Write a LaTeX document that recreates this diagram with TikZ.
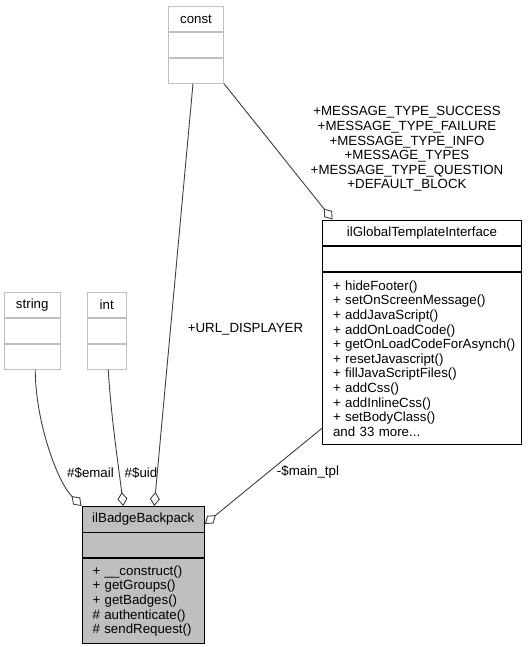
\documentclass[tikz,border=0pt]{standalone}
\usepackage{fontspec}
\setmainfont{Liberation Sans}
\usepackage{tikz}
\usetikzlibrary{arrows.meta}

\definecolor{boxgray}{HTML}{BFBFBF}
\definecolor{edgegray}{HTML}{404040}

\hyphenpenalty=10000
\exhyphenpenalty=10000

\tikzset{
  cls/.style={draw=black, fill=white, line width=0.9pt, inner sep=0pt, minimum height=25pt, anchor=north},
  extcls/.style={cls, draw=boxgray},
  opsbox/.style={cls, align=left, inner xsep=10.5pt},
  agg/.style={draw=edgegray, line width=0.9pt, -{Diamond[fill=white, length=14pt, width=10pt]}},
  lbl/.style={align=center}
}

\begin{document}
\begin{tikzpicture}[x=1pt, y=-1pt, every node/.style={font=\fontsize{13.3}{14.6}\selectfont}]
	% \draw[gray, very thin] (0,0) grid[step=50] (527,647);
	\useasboundingbox (0,0) rectangle (527,647);

	% const
	\node[extcls, minimum width=55pt] (cst) at (196,6) {const};
	\node[extcls, minimum width=55pt] (cst-attr) at (cst.south) {};
	\node[extcls, minimum width=55pt] (cst-ops) at (cst-attr.south) {};

	% string
	\node[extcls, minimum width=55.5pt] (str) at (32.25,292) {string};
	\node[extcls, minimum width=55.5pt] (str-attr) at (str.south) {};
	\node[extcls, minimum width=55.5pt] (str-ops) at (str-attr.south) {};

	% int
	\node[extcls, minimum width=38.5pt] (int) at (106.75,292) {int};
	\node[extcls, minimum width=38.5pt] (int-attr) at (int.south) {};
	\node[extcls, minimum width=38.5pt] (int-ops) at (int-attr.south) {};

	% ilGlobalTemplateInterface
	\node[cls, minimum width=199pt, minimum height=25.5pt] (gti) at (422,219.5) {ilGlobalTemplateInterface};
	\node[cls, minimum width=199pt] (gti-attr) at (gti.south) {};
	\node[opsbox, text width=178pt, minimum height=172.5pt] (gti-ops) at (gti-attr.south) {+~hideFooter()\\+~setOnScreenMessage()\\+~addJavaScript()\\+~addOnLoadCode()\\+~getOnLoadCodeForAsynch()\\+~resetJavascript()\\+~fillJavaScriptFiles()\\+~addCss()\\+~addInlineCss()\\+~setBodyClass()\\and 33 more...};

	% ilBadgeBackpack
	\node[cls, fill=boxgray, minimum width=122.5pt, minimum height=25.5pt] (bp) at (143.25,506) {ilBadgeBackpack};
	\node[cls, fill=boxgray, minimum width=122.5pt] (bp-attr) at (bp.south) {};
	\node[opsbox, fill=boxgray, text width=101.5pt, minimum height=84.5pt] (bp-ops) at (bp-attr.south) {+~\_\_construct()\\+~getGroups()\\+~getBadges()\\\#~authenticate()\\\#~sendRequest()};

	% connectors
	\draw[agg] (cst-ops.south east) -- ([xshift=10.5pt]gti.north west);
	\draw[agg] ([xshift=-3pt]cst-ops.south) -- ([xshift=11pt]bp.north);
	\draw[agg] ([xshift=3pt]str-ops.south) .. controls +(0,50) and +(-25,-25) .. (bp.north west);
	\draw[agg] ([xshift=1.5pt]int-ops.south) .. controls +(3,50) and +(-4,-35) .. ([xshift=-20pt]bp.north);
	\draw[agg] ([yshift=17pt]gti-ops.south west) -- ([yshift=-18pt]bp.north east);

	% labels
	\node[lbl] (msg) at (407,149) {+MESSAGE\_TYPE\_SUCCESS\\+MESSAGE\_TYPE\_FAILURE\\+MESSAGE\_TYPE\_INFO\\+MESSAGE\_TYPES\\+MESSAGE\_TYPE\_QUESTION\\+DEFAULT\_BLOCK};
	\node (url) at (245.5,329) {+URL\_DISPLAYER};
	\node (email) at (90.5,473) {\#\$email};
	\node (uid) at (141,473) {\#\$uid};
	\node (tpl) at (308,472) {-\$main\_tpl};
\end{tikzpicture}
\end{document}
